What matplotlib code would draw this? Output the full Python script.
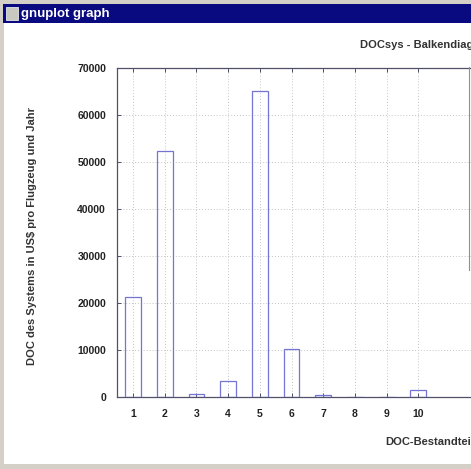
import matplotlib
matplotlib.use("Agg")
import matplotlib.pyplot as plt
from matplotlib.patches import Rectangle
from matplotlib.lines import Line2D

# data
categories = [1, 2, 3, 4, 5, 6, 7, 8, 9, 10]
doc_values = [21300, 52400, 500, 3200, 65100, 10200, 350, 0, 0, 1450]
y_ticks = [0, 10000, 20000, 30000, 40000, 50000, 60000, 70000]

W, H = 471, 469
BAR_COLOR = "#7474d4"
BORDER = "#50506a"
FONT = "Liberation Sans"


def px_x(x):
    return x / W


def px_y(y):
    return 1 - y / H


fig = plt.figure(figsize=(W / 100, H / 100), dpi=100)
fig.patch.set_facecolor("#d4d0c8")

# window chrome: white client area, navy title bar, icon (kept below the axes)
fig.patches.append(Rectangle((px_x(4), px_y(464)), px_x(467), 460 / H - 8 / H,
                             transform=fig.transFigure, facecolor="white",
                             edgecolor="none", zorder=-5))
fig.patches.append(Rectangle((px_x(3), px_y(23)), px_x(468), 19 / H,
                             transform=fig.transFigure, facecolor="#0a0a80",
                             edgecolor="none", zorder=-4))
fig.patches.append(Rectangle((px_x(6), px_y(20)), px_x(12), 13 / H,
                             transform=fig.transFigure, facecolor="#c8c8c0",
                             edgecolor="#e8e8e8", linewidth=0.6, zorder=-3))
fig.text(px_x(21), px_y(13.5), "gnuplot graph", color="white", fontsize=9.5,
         fontweight="bold", family=FONT, ha="left", va="center")

# the plot itself; right edge runs past the cropped window
x_lo, x_hi = 0.5, 12.0
step = 31.7
left = 117.2
right = left + (x_hi - x_lo) * step
top, bottom = 68.0, 396.5
ax = fig.add_axes([px_x(left), px_y(bottom), (right - left) / W, (bottom - top) / H])
ax.set_facecolor("white")

ax.bar(categories, doc_values, width=0.5, fill=False, edgecolor=BAR_COLOR,
       linewidth=0.9, zorder=3)

ax.set_xlim(x_lo, x_hi)
ax.set_ylim(0, 70000)
ax.set_xticks(categories)
ax.set_yticks(y_ticks)
ax.set_xticklabels([str(c) for c in categories])
ax.set_yticklabels([str(t) for t in y_ticks])

ax.grid(True, color="#c4c4c4", linestyle=(0, (1, 2)), linewidth=0.7, zorder=1)
ax.tick_params(direction="in", length=3, width=0.7, color=BORDER,
               top=True, right=True, labelsize=7.5, labelcolor="#222222")
ax.tick_params(axis="y", pad=8)
ax.tick_params(axis="x", pad=9)
for lab in ax.get_xticklabels() + ax.get_yticklabels():
    lab.set_fontweight("bold")
    lab.set_family(FONT)
for sp in ax.spines.values():
    sp.set_color(BORDER)
    sp.set_linewidth(0.9)

# texts (title and x label are cut by the window edge, as in the screenshot)
fig.text(px_x(32), px_y(236), "DOC des Systems in US$ pro Flugzeug und Jahr",
         rotation=90, fontsize=8, fontweight="bold", family=FONT,
         color="#333333", ha="center", va="center")
fig.text(px_x(360), px_y(45), "DOCsys - Balkendiagramm", fontsize=8,
         fontweight="bold", family=FONT, color="#333333", ha="left", va="center")
fig.text(px_x(385), px_y(442), "DOC-Bestandteile", fontsize=8,
         fontweight="bold", family=FONT, color="#333333", ha="left", va="center")

# stray frame line at the right crop edge
fig.lines.append(Line2D([px_x(468.5), px_x(468.5)], [px_y(67), px_y(270)],
                        transform=fig.transFigure, color="#909090", linewidth=0.8))

fig.savefig("out.png", dpi=100)
plt.close(fig)
